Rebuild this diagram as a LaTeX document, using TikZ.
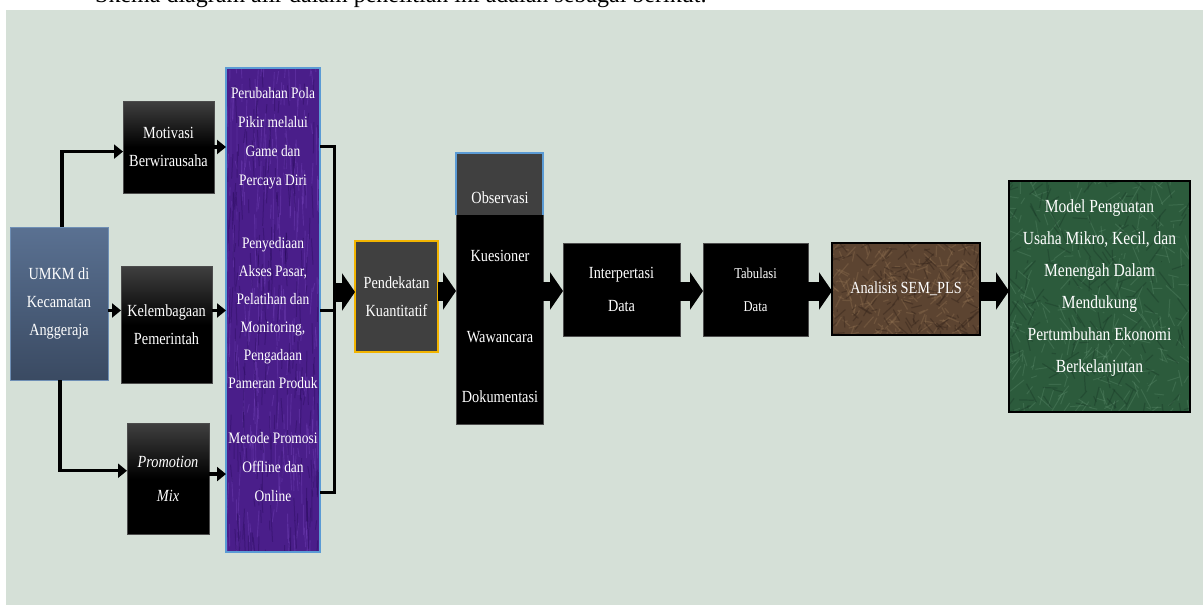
\documentclass[tikz,border=0pt]{standalone}
\usepackage{fontspec}
\setmainfont{Liberation Serif}
\newfontfamily\slab{Liberation Serif}[FakeStretch=0.84]
\usetikzlibrary{arrows.meta,calc}
\definecolor{bg}{HTML}{D5E0D7}
\definecolor{umkmtop}{HTML}{5A7192}
\definecolor{umkmbot}{HTML}{3A4A62}
\definecolor{umkmline}{HTML}{6F8FB5}
\definecolor{purp}{HTML}{4A1E8A}
\definecolor{purplight}{HTML}{7A48C0}
\definecolor{purpdark}{HTML}{2A0C5E}
\definecolor{purpline}{HTML}{5B9BD5}
\definecolor{darkbox}{HTML}{404040}
\definecolor{orangeline}{HTML}{F2B400}
\definecolor{brownbox}{HTML}{5C4431}
\definecolor{brownlight}{HTML}{9A7A58}
\definecolor{browndark}{HTML}{33231A}
\definecolor{greenbox}{HTML}{2C5B3C}
\definecolor{greenlight}{HTML}{6E9E7E}
\definecolor{greendark}{HTML}{163524}
\begin{document}
\begin{tikzpicture}[x=1pt,y=-1pt,
  box/.style={inner sep=0pt, outer sep=0pt, anchor=north west},
  blackbox/.style={box, draw=black!70, line width=0.8pt, top color=black!75, bottom color=black, middle color=black},
  txt/.style={text=white, align=center, font=\slab\fontsize{17}{28}\selectfont},
  conn/.style={line width=3.5pt, black},
  arr/.style={conn, -{Triangle[length=9pt,width=14pt]}},
  blockarr/.style={line width=19pt, black, -{Triangle[length=13pt,width=37pt]}}
]
\useasboundingbox (0,0) rectangle (1203,605);
\fill[bg] (6,10) rectangle (1203,605);
\node[anchor=base west, inner sep=0pt, font=\fontsize{24}{26}\selectfont] (cap) at (95,2.5) {Skema diagram alir dalam penelitian ini adalah sebagai berikut:};

% left column
\node[box, draw=umkmline, line width=1pt, top color=umkmtop, bottom color=umkmbot, minimum width=98pt, minimum height=153pt] (umkm) at (10,227) {};
\node[txt] (umkmt) at (umkm.center) {UMKM di\\Kecamatan\\Anggeraja};

\node[blackbox, minimum width=91pt, minimum height=92pt] (mot) at (123,101) {};
\node[txt] (mott) at (mot.center) {Motivasi\\Berwirausaha};

\node[blackbox, minimum width=91pt, minimum height=117pt] (kel) at (121,266) {};
\node[txt] (kelt) at (kel.center) {Kelembagaan\\Pemerintah};

\node[blackbox, minimum width=82pt, minimum height=111pt] (pro) at (127,423) {};
\node[txt, font=\slab\itshape\fontsize{17}{34}\selectfont] (prot) at (pro.center) {Promotion\\Mix};

% purple column
\node[box, fill=purp, minimum width=94pt, minimum height=484pt] (purple) at (226,68) {};
\begin{scope}
\clip (purple.north west) rectangle (purple.south east);
\pgfmathsetseed{11}
\foreach \i in {1,...,260} {
  \pgfmathsetmacro\xx{226+94*rnd}
  \pgfmathsetmacro\yy{60+490*rnd}
  \pgfmathsetmacro\ll{8+30*rnd}
  \pgfmathsetmacro\dx{4*rnd-2}
  \draw[purplight, opacity=0.35, line width=0.9pt] (\xx,\yy) -- ++(\dx,\ll);
}
\foreach \i in {1,...,200} {
  \pgfmathsetmacro\xx{226+94*rnd}
  \pgfmathsetmacro\yy{60+490*rnd}
  \pgfmathsetmacro\ll{8+30*rnd}
  \pgfmathsetmacro\dx{4*rnd-2}
  \draw[purpdark, opacity=0.4, line width=1pt] (\xx,\yy) -- ++(\dx,\ll);
}
\end{scope}
\draw[purpline, line width=1.5pt] (purple.north west) rectangle (purple.south east);
\node[txt, font=\slab\fontsize{16}{29}\selectfont] (p1) at (273,138) {Perubahan Pola\\Pikir melalui\\Game dan\\Percaya Diri};
\node[txt, font=\slab\fontsize{16}{28}\selectfont] (p2) at (273,313) {Penyediaan\\Akses Pasar,\\Pelatihan dan\\Monitoring,\\Pengadaan\\Pameran Produk};
\node[txt, font=\slab\fontsize{16}{29}\selectfont] (p3) at (273,467) {Metode Promosi\\Offline dan\\Online};

% connectors left
\coordinate (motin) at ($(mot.north west)!.55!(mot.south west)$);
\coordinate (kelin) at ($(kel.north west)!.38!(kel.south west)$);
\coordinate (proin) at ($(pro.north west)!.43!(pro.south west)$);
\draw[arr] ($(umkm.north west)!.53!(umkm.north east)$) |- (motin);
\draw[arr] (umkm.east |- kelin) -- (kelin);
\draw[arr] ($(umkm.south west)!.51!(umkm.south east)$) |- (proin);

\draw[arr] (mot.east) -- (mot.east -| purple.west);
\coordinate (kelout) at ($(kel.north east)!.38!(kel.south east)$);
\draw[arr] (kelout) -- (kelout -| purple.west);
\coordinate (proout) at ($(pro.north east)!.46!(pro.south east)$);
\draw[arr] (proout) -- (proout -| purple.west);

% bracket
\coordinate (b1) at (334,146);
\coordinate (b2) at (334,310);
\coordinate (b3) at (334,492);
\coordinate (bm) at (334,292);
\draw[line width=3pt, line join=miter] (purple.east |- b1) -- (b1) -- (b3) -- (purple.east |- b3);
\draw[line width=3pt] (purple.east |- b2) -- (b2);

% middle chain
\node[box, draw=orangeline, line width=1.8pt, fill=darkbox, minimum width=83pt, minimum height=111pt] (pend) at (355,241) {};
\node[txt] (pendt) at (pend.center) {Pendekatan\\Kuantitatif};
\draw[blockarr] (bm) -- (pend.west |- bm);

\node[box, fill=black, draw=black!70, line width=0.8pt, minimum width=87pt, minimum height=271pt] (data) at (456,153) {};
\node[box, fill=darkbox, minimum width=87pt, minimum height=62pt] (obs) at (456,153) {};
\draw[purpline, line width=1.2pt] (obs.south west) -- (obs.north west) -- (obs.north east) -- (obs.south east);
\node[txt] (obst) at (500,198) {Observasi};
\node[txt] (kuest) at (500,256) {Kuesioner};
\node[txt] (waw) at (500,337) {Wawancara};
\node[txt] (dok) at (500,397) {Dokumentasi};

\coordinate (a2) at (438,291);
\draw[blockarr] (pend.east |- a2) -- (data.west |- a2);

\node[box, fill=black, draw=black!70, line width=0.8pt, minimum width=117pt, minimum height=93pt] (interp) at (563,243) {};
\node[txt, font=\slab\fontsize{17}{33}\selectfont] (interpt) at (interp.center) {Interpertasi\\Data};
\draw[blockarr] (data.east |- a2) -- (interp.west |- a2);

\node[box, fill=black, draw=black!70, line width=0.8pt, minimum width=105pt, minimum height=93pt] (tab) at (703,243) {};
\node[txt, font=\slab\fontsize{15}{33}\selectfont] (tabt) at (tab.center) {Tabulasi\\Data};
\draw[blockarr] (interp.east |- a2) -- (tab.west |- a2);

\node[box, fill=brownbox, minimum width=148pt, minimum height=92pt] (sem) at (832,243) {};
\begin{scope}
\clip (sem.north west) rectangle (sem.south east);
\pgfmathsetseed{5}
\foreach \i in {1,...,220} {
  \pgfmathsetmacro\xx{826+154*rnd}
  \pgfmathsetmacro\yy{238+100*rnd}
  \pgfmathsetmacro\dx{24*rnd-12}
  \pgfmathsetmacro\dy{24*rnd-12}
  \draw[brownlight, opacity=0.3, line width=1.2pt] (\xx,\yy) -- ++(\dx,\dy);
}
\foreach \i in {1,...,160} {
  \pgfmathsetmacro\xx{826+154*rnd}
  \pgfmathsetmacro\yy{238+100*rnd}
  \pgfmathsetmacro\dx{24*rnd-12}
  \pgfmathsetmacro\dy{24*rnd-12}
  \draw[browndark, opacity=0.4, line width=1.2pt] (\xx,\yy) -- ++(\dx,\dy);
}
\end{scope}
\draw[black, line width=1.2pt] (sem.north west) rectangle (sem.south east);
\node[txt] (semt) at (sem.center) {Analisis SEM\_PLS};
\draw[blockarr] (tab.east |- a2) -- (sem.west |- a2);

\node[box, fill=greenbox, minimum width=181pt, minimum height=231pt] (model) at (1009,181) {};
\begin{scope}
\clip (model.north west) rectangle (model.south east);
\pgfmathsetseed{3}
\foreach \i in {1,...,300} {
  \pgfmathsetmacro\xx{1000+195*rnd}
  \pgfmathsetmacro\yy{170+250*rnd}
  \pgfmathsetmacro\dx{30*rnd-15}
  \pgfmathsetmacro\dy{40*rnd-20}
  \draw[greenlight, opacity=0.25, line width=1pt] (\xx,\yy) -- ++(\dx,\dy);
}
\foreach \i in {1,...,200} {
  \pgfmathsetmacro\xx{1000+195*rnd}
  \pgfmathsetmacro\yy{170+250*rnd}
  \pgfmathsetmacro\dx{30*rnd-15}
  \pgfmathsetmacro\dy{40*rnd-20}
  \draw[greendark, opacity=0.35, line width=1.2pt] (\xx,\yy) -- ++(\dx,\dy);
}
\end{scope}
\draw[black, line width=1.2pt] (model.north west) rectangle (model.south east);
\node[txt, font=\slab\fontsize{18.5}{32}\selectfont] (modelt) at (1099.5,288) {Model Penguatan\\Usaha Mikro, Kecil, dan\\Menengah Dalam\\Mendukung\\Pertumbuhan Ekonomi\\Berkelanjutan};
\draw[blockarr] (sem.east |- a2) -- (model.west |- a2);
\end{tikzpicture}
\end{document}
